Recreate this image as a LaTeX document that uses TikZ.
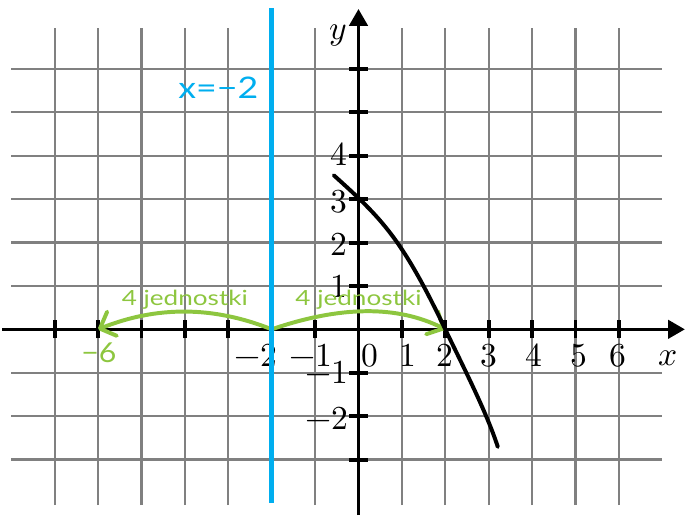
\documentclass[tikz,border=0pt]{standalone}
\usepackage{fontspec}
\usepackage{unicode-math}
\usepackage{graphicx}
\newfontfamily\handfont{Lato}
\usetikzlibrary{arrows.meta}
\definecolor{gridgray}{RGB}{128,128,128}
\definecolor{linecyan}{RGB}{0,174,239}
\definecolor{handgreen}{RGB}{141,198,63}
\tikzset{
  gridline/.style={draw=gridgray, line width=1.5pt},
  axisline/.style={draw=black, line width=2.2pt, -{Triangle[length=11pt,width=12pt]}},
  tickline/.style={draw=black, line width=2.6pt},
  numlabel/.style={inner sep=0pt, font=\fontsize{22}{26}\selectfont},
  graphline/.style={draw=black, line width=2.6pt, line cap=round, line join=round},
  symline/.style={draw=linecyan, line width=3pt},
  jumparc/.style={draw=handgreen, line width=2.6pt, line cap=round, line join=round,
    -{Straight Barb[length=8.5pt,width=17pt,line cap=round,line join=round]}},
  greentext/.style={inner sep=0pt, text=handgreen, font=\handfont\fontsize{13.7}{16}\selectfont},
  bluetext/.style={inner sep=0pt, text=linecyan, font=\handfont\fontsize{19.5}{22}\selectfont}
}
\begin{document}
\begin{tikzpicture}
\useasboundingbox (-8.260,-4.417) rectangle (7.615,7.588);
% grid
\foreach \k in {-3,-2,-1,1,2,3,4,5,6} \draw[gridline] (-8,\k) -- (7,\k);
\foreach \k in {-7,-6,-5,-4,-3,-1,1,2,3,4,5,6} \draw[gridline] (\k,-4.05) -- (\k,6.95);
% axes
\coordinate (xstart) at (-8.21,0);
\coordinate (xend) at (7.52,0);
\coordinate (ystart) at (0,-4.28);
\coordinate (yend) at (0,7.38);
\draw[axisline] (xstart) -- (xend);
\draw[axisline] (ystart) -- (yend);
% ticks
\foreach \k in {-7,-6,-5,-4,-3,-2,-1,1,2,3,4,5,6} \draw[tickline] (\k,-0.21) -- (\k,0.21);
\foreach \k in {-3,-2,-1,1,2,3,4,5,6} \draw[tickline] (-0.21,\k) -- (0.21,\k);
% x labels
\node[numlabel, anchor=base] (lxm2) at (-2.36,-0.86) {$-2$};
\node[numlabel, anchor=base] (lxm1) at (-1.10,-0.86) {$-1$};
\node[numlabel, anchor=base] (lx0) at (0.27,-0.86) {$0$};
\node[numlabel, anchor=base] (lx1) at (1.13,-0.86) {$1$};
\node[numlabel, anchor=base] (lx2) at (1.99,-0.86) {$2$};
\node[numlabel, anchor=base] (lx3) at (3.01,-0.86) {$3$};
\node[numlabel, anchor=base] (lx4) at (4.04,-0.86) {$4$};
\node[numlabel, anchor=base] (lx5) at (5.08,-0.86) {$5$};
\node[numlabel, anchor=base] (lx6) at (5.98,-0.86) {$6$};
\node[numlabel, anchor=base] (lxx) at (7.13,-0.84) {$x$};
% y labels
\node[numlabel, anchor=east] (ly4) at (-0.25,4.04) {$4$};
\node[numlabel, anchor=east] (ly3) at (-0.25,2.95) {$3$};
\node[numlabel, anchor=east] (ly2) at (-0.25,1.96) {$2$};
\node[numlabel, anchor=east] (ly1) at (-0.25,0.98) {$1$};
\node[numlabel, anchor=east] (lym1) at (-0.23,-1.0) {$-1$};
\node[numlabel, anchor=east] (lym2) at (-0.23,-2.06) {$-2$};
\node[numlabel] (lyy) at (-0.47,6.78) {$y$};
% green jumps
\coordinate (pm2) at (-2,0);
\coordinate (pm6) at (-6,0);
\coordinate (p2) at (2,0);
\draw[jumparc] (pm2) .. controls (-3.35,0.54) and (-4.65,0.54) .. (pm6);
\draw[jumparc] (pm2) .. controls (-0.4,0.55) and (0.9,0.55) .. (p2);
\node[greentext, anchor=base] (jl) at (-4.0,0.56) {\scalebox{1.25}[1]{4 jednostki}};
\node[greentext, anchor=base] (jr) at (0.0,0.56) {\scalebox{1.25}[1]{4 jednostki}};
\node[greentext, anchor=base, font=\handfont\fontsize{18}{21}\selectfont] (lm6) at (-5.98,-0.76) {\scalebox{1.1}[1]{−6}};
% graph
\coordinate (gstart) at (-0.57,3.55);
\coordinate (groot) at (2,0);
\coordinate (gend) at (3.21,-2.71);
\draw[graphline] (gstart) .. controls (0.53,2.56) and (1.0,2.1) .. (groot)
  .. controls (2.4,-0.84) and (2.95,-1.9) .. (gend);
% symmetry line
\coordinate (btop) at (-2,7.40);
\coordinate (bbot) at (-2,-3.99);
\draw[symline] (bbot) -- (btop);
\node[bluetext, anchor=base] (lsym) at (-3.23,5.32) {\scalebox{1.2}[1]{x=−2}};
\end{tikzpicture}
\end{document}
